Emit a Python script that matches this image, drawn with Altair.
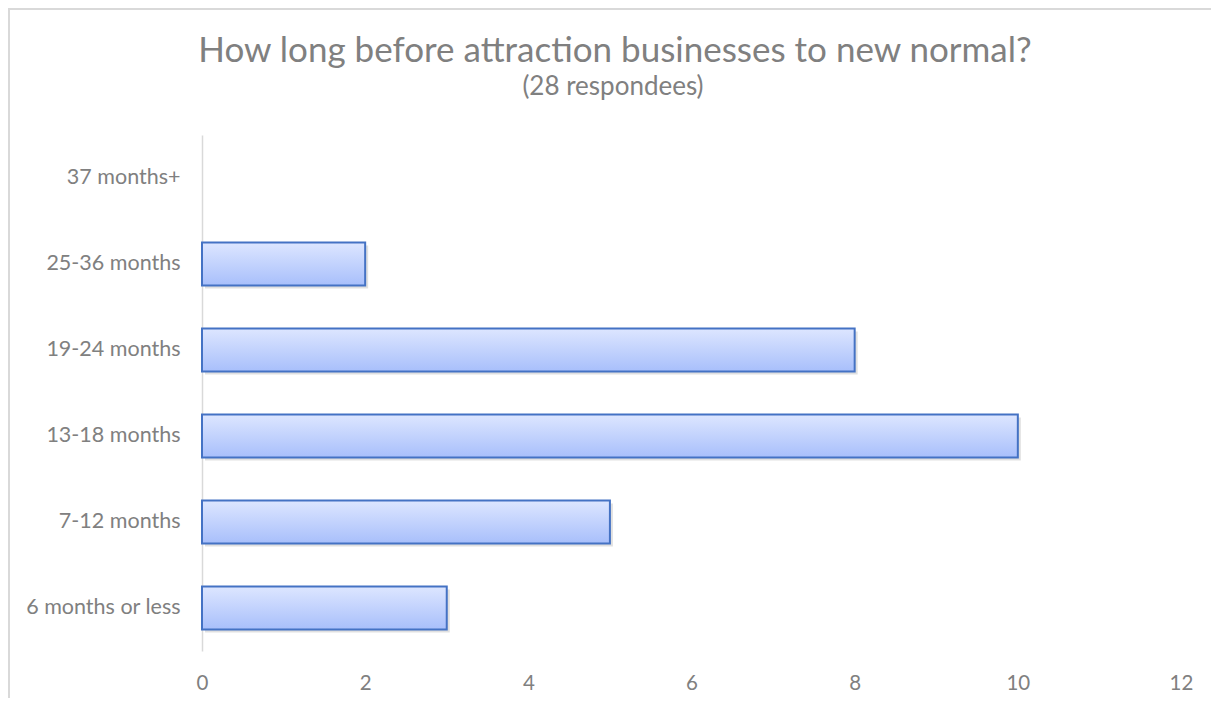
import altair as alt
import pandas as pd

categories = ["37 months+", "25-36 months", "19-24 months", "13-18 months", "7-12 months", "6 months or less"]
counts = [0, 2, 8, 10, 5, 3]
x_ticks = [0, 2, 4, 6, 8, 10, 12]
title_text = "How long before attraction businesses to new normal?"
subtitle_text = "(28 respondees)"

df = pd.DataFrame({"category": categories, "count": counts})

FONT = "Lato"
GRAY = "#808080"
W, H = 979, 516
PL, PT = 194, 127

grad = alt.Gradient(
    gradient="linear",
    stops=[alt.GradientStop(color="#dde6ff", offset=0),
           alt.GradientStop(color="#a8bffb", offset=1)],
    x1=0, x2=0, y1=0, y2=1,
)

y_enc = alt.Y("category:N", sort=categories, title=None,
              scale=alt.Scale(domain=categories, paddingInner=0.5, paddingOuter=0.25),
              axis=alt.Axis(domainColor="#d9d9d9", domainWidth=1.5, ticks=False,
                            labelPadding=22, labelFont=FONT, labelFontSize=21.5,
                            labelColor=GRAY))
x_enc = alt.X("count:Q", title=None,
              scale=alt.Scale(domain=[0, 12]),
              axis=alt.Axis(values=x_ticks, domain=False, ticks=False, grid=False,
                            labelFlush=False,
                            labelPadding=22, labelFont=FONT, labelFontSize=20.5,
                            labelColor=GRAY, format="d"))

shadow = alt.Chart(df).mark_bar(color="#000000", opacity=0.12, xOffset=3, yOffset=3).encode(
    x=x_enc, y=y_enc
).transform_filter("datum.count > 0")

bars = alt.Chart(df).mark_bar(fill=grad, stroke="#4472c4", strokeWidth=2).encode(
    x=x_enc, y=y_enc
).transform_filter("datum.count > 0")

one = pd.DataFrame({"title": [title_text], "subtitle": [subtitle_text]})
frame_left = alt.Chart(one).mark_rule(color="#d9d9d9", strokeWidth=2).encode(
    x=alt.value(-PL + 1), y=alt.value(-PT), y2=alt.value(H + 60)
)
frame_top = alt.Chart(one).mark_rule(color="#d9d9d9", strokeWidth=2).encode(
    x=alt.value(-PL), x2=alt.value(W + 30), y=alt.value(-PT + 1)
)
title = alt.Chart(one).mark_text(
    font=FONT, fontSize=35, color=GRAY, align="center", baseline="alphabetic"
).encode(text="title:N", x=alt.value(615 - 202), y=alt.value(62 - 135))
subtitle = alt.Chart(one).mark_text(
    font=FONT, fontSize=26, color=GRAY, align="center", baseline="alphabetic"
).encode(text="subtitle:N", x=alt.value(613 - 202), y=alt.value(95 - 135))

chart = alt.layer(frame_left, frame_top, title, subtitle, shadow, bars).properties(
    width=W, height=H,
    padding={"left": PL, "top": PT, "right": 30, "bottom": 47},
    autosize=alt.AutoSizeParams(type="none"),
).configure_view(stroke=None)

chart.save("out.html", embed_options={"renderer": "svg", "actions": False})
